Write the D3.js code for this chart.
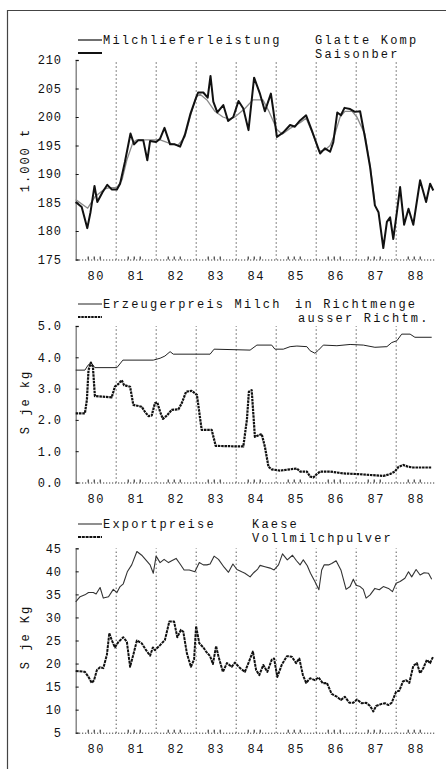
<!DOCTYPE html>
<html>
<head>
<meta charset="utf-8">
<script src="https://cdn.jsdelivr.net/npm/d3@7"></script>
<style>
body{margin:0;background:#fff}
svg text{font-family:"Liberation Mono","DejaVu Sans Mono",monospace;fill:#111}
.grid line{stroke:#111;stroke-dasharray:1,3}
.grid path{display:none}
</style>
</head>
<body>
<svg id="chart" width="446" height="769"></svg>
<script>
// Milchlieferleistung, 1.000 t (saisonbereinigt / glatte Komponente)
const saisonber=[[80.00,185.1],[80.15,184.2],[80.29,180.5],[80.37,183.3],[80.47,187.9],[80.54,185.1],[80.67,186.8],[80.79,188.1],[80.90,187.3],[81.03,187.3],[81.11,188.3],[81.23,192.1],[81.37,197.1],[81.46,195.2],[81.56,195.9],[81.69,195.9],[81.79,192.4],[81.86,195.8],[82.01,195.6],[82.11,196.2],[82.22,198.1],[82.36,195.2],[82.48,195.2],[82.61,194.8],[82.73,196.9],[82.87,200.6],[83.01,203.4],[83.06,204.3],[83.19,204.3],[83.30,203.4],[83.37,207.2],[83.44,202.7],[83.54,200.8],[83.69,202.1],[83.81,199.3],[83.94,200.0],[84.07,202.8],[84.19,201.5],[84.32,197.7],[84.46,206.9],[84.61,204.0],[84.73,201.0],[84.88,204.1],[84.94,201.2],[85.03,196.5],[85.19,197.3],[85.36,198.6],[85.48,198.3],[85.61,199.4],[85.76,200.3],[85.90,197.7],[86.11,193.6],[86.23,194.5],[86.36,193.9],[86.44,195.6],[86.54,200.8],[86.63,200.3],[86.72,201.6],[86.86,201.4],[86.98,200.9],[87.11,201.0],[87.23,196.5],[87.36,191.2],[87.48,184.5],[87.57,183.3],[87.69,177.0],[87.78,181.6],[87.86,182.4],[87.94,178.6],[88.03,183.3],[88.11,187.7],[88.21,181.1],[88.32,183.9],[88.44,181.1],[88.61,188.9],[88.76,185.1],[88.86,188.3],[88.94,187.1]];
const glatteKomp=[[80.00,185.5],[80.30,184.0],[80.48,186.0],[80.73,187.4],[80.85,187.6],[81.03,187.6],[81.16,189.0],[81.28,192.5],[81.43,195.5],[81.53,196.0],[81.98,196.0],[82.11,196.0],[82.30,195.5],[82.55,195.0],[82.73,196.5],[82.86,200.0],[83.01,203.5],[83.11,204.0],[83.28,203.0],[83.48,201.0],[83.68,200.0],[83.86,199.6],[83.98,200.0],[84.23,201.5],[84.43,203.0],[84.68,203.0],[84.83,201.0],[85.03,197.8],[85.16,197.0],[85.36,198.0],[85.61,199.0],[85.76,199.8],[85.93,197.0],[86.08,194.0],[86.23,194.2],[86.36,195.0],[86.48,197.0],[86.61,200.0],[86.73,201.0],[86.91,201.0],[87.03,200.0],[87.23,197.0],[87.36,191.5],[87.48,185.0]];

// Erzeugerpreis Milch, S je kg
const inRichtmenge=[[80.00,3.59],[80.23,3.59],[80.31,3.75],[80.38,3.83],[80.48,3.67],[81.03,3.67],[81.18,3.91],[81.94,3.91],[82.11,3.97],[82.23,4.04],[82.36,4.18],[82.44,4.10],[83.36,4.10],[83.46,4.26],[84.36,4.23],[84.53,4.39],[84.90,4.39],[84.98,4.26],[85.19,4.26],[85.36,4.34],[85.53,4.36],[85.78,4.34],[85.86,4.21],[85.98,4.13],[86.07,4.23],[86.19,4.39],[86.53,4.37],[86.86,4.41],[87.19,4.39],[87.48,4.32],[87.78,4.34],[87.90,4.47],[88.03,4.53],[88.15,4.74],[88.36,4.74],[88.48,4.64],[88.90,4.64]];
const ausserRichtm=[[80.00,2.21],[80.23,2.21],[80.28,2.64],[80.32,3.59],[80.38,3.83],[80.43,3.70],[80.48,2.76],[80.90,2.72],[80.98,3.06],[81.07,3.15],[81.15,3.27],[81.21,3.11],[81.36,3.06],[81.44,2.48],[81.65,2.42],[81.73,2.26],[81.82,2.12],[81.90,2.14],[81.98,2.53],[82.04,2.56],[82.11,2.26],[82.18,2.03],[82.28,2.14],[82.40,2.32],[82.57,2.34],[82.65,2.53],[82.76,2.90],[82.90,2.93],[83.03,2.80],[83.15,1.68],[83.40,1.68],[83.50,1.17],[84.19,1.15],[84.28,2.00],[84.33,2.90],[84.40,2.95],[84.48,1.46],[84.65,1.55],[84.73,1.14],[84.82,0.50],[84.90,0.42],[85.11,0.38],[85.36,0.42],[85.53,0.45],[85.61,0.35],[85.78,0.35],[85.86,0.19],[85.94,0.16],[86.03,0.27],[86.11,0.35],[86.36,0.35],[86.69,0.29],[87.03,0.27],[87.36,0.24],[87.69,0.21],[87.86,0.27],[87.98,0.35],[88.07,0.50],[88.19,0.56],[88.32,0.50],[88.44,0.48],[88.90,0.48]];

// Exportpreise, S je kg
const kaese=[[80.00,33.4],[80.11,34.5],[80.23,34.9],[80.32,35.4],[80.44,35.4],[80.51,35.1],[80.61,36.5],[80.69,34.2],[80.82,34.5],[80.94,36.1],[81.03,35.4],[81.11,36.7],[81.19,37.3],[81.29,39.9],[81.40,41.4],[81.53,44.3],[81.65,43.5],[81.79,42.1],[81.86,41.4],[81.94,39.6],[82.01,43.3],[82.11,41.9],[82.21,42.6],[82.32,41.9],[82.40,42.3],[82.51,42.8],[82.61,41.6],[82.71,40.3],[82.84,40.3],[82.98,39.9],[83.09,41.9],[83.19,41.4],[83.28,41.4],[83.36,41.6],[83.46,43.3],[83.57,42.6],[83.71,40.9],[83.82,39.8],[83.93,41.6],[84.03,40.4],[84.15,39.9],[84.23,39.6],[84.36,38.8],[84.45,39.7],[84.55,40.5],[84.61,41.3],[84.73,41.0],[84.86,40.7],[84.96,40.3],[85.07,41.4],[85.17,43.8],[85.29,42.5],[85.42,43.5],[85.52,42.3],[85.61,41.4],[85.69,42.5],[85.79,41.2],[85.87,39.6],[85.98,37.8],[86.08,36.0],[86.15,40.3],[86.21,41.4],[86.32,41.4],[86.40,41.7],[86.51,42.3],[86.63,40.3],[86.76,36.1],[86.86,36.7],[86.94,38.3],[87.01,37.0],[87.11,36.7],[87.19,36.1],[87.26,34.2],[87.36,34.9],[87.48,36.3],[87.59,36.0],[87.69,36.7],[87.82,36.3],[87.92,35.6],[88.01,37.4],[88.11,37.8],[88.23,38.5],[88.32,39.9],[88.40,38.8],[88.51,40.4],[88.61,39.2],[88.71,39.7],[88.82,39.6],[88.90,38.3]];
const vollmilchpulver=[[80.00,18.4],[80.23,18.2],[80.32,17.1],[80.40,15.8],[80.46,16.4],[80.53,18.6],[80.61,19.2],[80.69,19.0],[80.78,21.9],[80.84,26.6],[80.90,25.1],[80.98,23.5],[81.07,24.7],[81.19,25.7],[81.28,24.7],[81.36,19.3],[81.44,21.9],[81.53,25.0],[81.65,24.4],[81.76,22.9],[81.86,21.7],[81.93,23.5],[81.98,22.9],[82.11,24.0],[82.23,25.1],[82.34,29.1],[82.46,29.1],[82.54,25.7],[82.63,27.3],[82.69,26.9],[82.78,22.2],[82.88,19.3],[82.96,20.9],[83.01,28.1],[83.09,24.4],[83.19,23.5],[83.26,22.6],[83.36,21.6],[83.43,19.9],[83.51,23.8],[83.57,21.5],[83.68,18.2],[83.78,20.1],[83.90,19.3],[83.98,20.2],[84.11,19.0],[84.23,18.2],[84.34,20.6],[84.43,22.6],[84.51,18.6],[84.59,17.5],[84.69,19.7],[84.79,18.2],[84.90,20.8],[84.96,21.1],[85.04,17.1],[85.15,19.7],[85.28,21.6],[85.40,21.5],[85.51,20.1],[85.59,21.1],[85.68,17.5],[85.76,15.8],[85.86,16.8],[85.98,16.4],[86.07,17.0],[86.18,15.7],[86.28,15.8],[86.40,13.4],[86.53,12.8],[86.63,12.1],[86.73,12.8],[86.84,11.5],[86.94,11.5],[87.03,12.2],[87.15,11.4],[87.26,11.5],[87.36,10.8],[87.44,9.6],[87.51,10.8],[87.63,11.2],[87.73,11.4],[87.82,11.0],[87.90,11.5],[87.96,12.8],[88.01,13.9],[88.09,14.1],[88.18,16.1],[88.26,16.4],[88.34,15.8],[88.44,19.5],[88.53,20.1],[88.61,17.9],[88.69,19.0],[88.78,20.8],[88.86,20.1],[88.93,21.4]];

const years=[80,81,82,83,84,85,86,87,88];
const ticks1=[175,180,185,190,195,200,205,210];
const ticks2=[0,1,2,3,4,5];
const ticks3=[5,10,15,20,25,30,35,40,45];

const svg=d3.select("#chart");
const x=d3.scaleLinear().domain([80,89]).range([75.7,435.7]);

// page frame of the scan
svg.append("line").attr("x1",7.5).attr("x2",7.5).attr("y1",10).attr("y2",769).attr("stroke","#444").attr("stroke-width",1.2);
svg.append("line").attr("x1",7.5).attr("x2",446).attr("y1",10.5).attr("y2",10.5).attr("stroke","#444").attr("stroke-width",1);

function panel(p){
  const y=d3.scaleLinear().domain(p.domain).range([p.bottom,p.top]);
  const g=svg.append("g");

  g.append("g").attr("class","grid").attr("transform",`translate(0,${p.bottom})`)
    .call(d3.axisBottom(x).tickValues(years.slice(1)).tickSize(-(p.bottom-p.top)).tickFormat(""));

  // bottom axis, dotted with small ticks
  const bx=g.append("g").attr("transform",`translate(0,${p.bottom})`)
    .call(d3.axisBottom(x).tickValues(years.map(d=>d+0.5)).tickSize(0).tickPadding(12).tickFormat(d=>Math.floor(d)));
  bx.select(".domain").attr("stroke","#111").attr("stroke-dasharray","1,2");
  bx.selectAll("text").style("font-size","12px").style("letter-spacing","1.5px").attr("fill","#222");
  const minor=[];
  years.forEach(yr=>{minor.push(yr+0.3,yr+0.45,yr+0.6);});
  const mx=g.append("g").attr("transform",`translate(0,${p.bottom})`)
    .call(d3.axisBottom(x).tickValues(minor).tickSize(-3).tickFormat(""));
  mx.select(".domain").remove();
  mx.selectAll("line").attr("stroke","#111");

  const ly=g.append("g").attr("transform",`translate(${x(80)},0)`)
    .call(d3.axisLeft(y).tickValues(p.ticks).tickSize(-3).tickPadding(14).tickFormat(p.fmt));
  ly.select(".domain").attr("stroke","#777").attr("stroke-width",1.3);
  ly.selectAll("line").attr("stroke","#111");
  ly.selectAll("text").style("font-size","12px").style("letter-spacing","0.8px").attr("fill","#222");

  g.append("text").attr("transform",`translate(29,${p.titleY}) rotate(-90)`)
    .attr("text-anchor","middle").style("font-size","12px").style("letter-spacing","2px").attr("fill","#222").text(p.title);

  const line=d3.line().x(d=>x(d[0])).y(d=>y(d[1]));
  p.series.forEach(s=>{
    g.append("path").datum(s.data).attr("d",line).attr("fill","none")
      .attr("stroke",s.color).attr("stroke-width",s.width)
      .attr("stroke-dasharray",s.dash||null).attr("stroke-linejoin","round");
  });

  // legend
  p.series.forEach((s,i)=>{
    const ly=p.legendY+i*13;
    g.append("line").attr("x1",78).attr("x2",102).attr("y1",ly).attr("y2",ly)
      .attr("stroke",s.legendColor||s.color).attr("stroke-width",s.width).attr("stroke-dasharray",s.dash||null);
  });
  p.labels.forEach(l=>{
    g.append("text").attr("x",l[0]).attr("y",p.legendY+l[1]*13+4)
      .style("font-size","12px").style("letter-spacing","2.2px").attr("fill","#222").text(l[2]);
  });
}

panel({domain:[175,210],top:60,bottom:259.5,ticks:ticks1,fmt:d3.format("d"),title:"1.000 t",titleY:160,
  legendY:40,
  series:[{data:glatteKomp,color:"#8a8a8a",legendColor:"#222",width:1.3},{data:saisonber,color:"#111",width:2}],
  labels:[[103,0,"Milchlieferleistung"],[315,0,"Glatte Komp"],[315,1.1,"Saisonber"]]});

panel({domain:[0,5],top:326,bottom:482.5,ticks:ticks2,fmt:d3.format(".1f"),title:"S je kg",titleY:402,
  legendY:304,
  series:[{data:inRichtmenge,color:"#222",width:1},{data:ausserRichtm,color:"#111",width:2.2,dash:"2.5,0.8"}],
  labels:[[103,0,"Erzeugerpreis Milch"],[295,0,"in Richtmenge"],[298,1.05,"ausser Richtm."]]});

panel({domain:[5,45],top:548.3,bottom:732.7,ticks:ticks3,fmt:d3.format("d"),title:"S je Kg",titleY:637,
  legendY:524,
  series:[{data:kaese,color:"#333",width:1.1},{data:vollmilchpulver,color:"#111",width:2,dash:"3,0.8"}],
  labels:[[103,0,"Exportpreise"],[252,0,"Kaese"],[252,1.1,"Vollmilchpulver"]]});
</script>
</body>
</html>
